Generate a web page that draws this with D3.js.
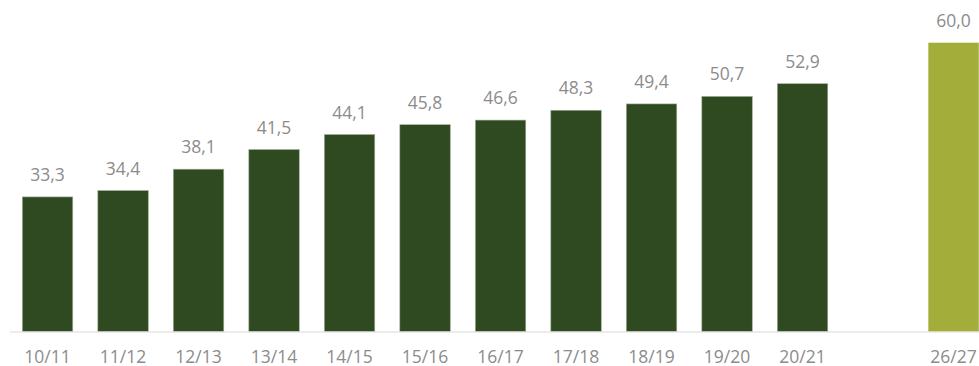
<!DOCTYPE html>
<html lang="en">
<head>
<meta charset="UTF-8">
<title>Bars</title>
<style>
  body { margin: 0; background: #fff; }
  text { font-family: "Open Sans", sans-serif; fill: #8c8c8c; }
</style>
</head>
<body>
<svg id="chart" width="979" height="366"></svg>
<script src="https://d3js.org/d3.v7.min.js"></script>
<script>
// data
var seasons = ["10/11", "11/12", "12/13", "13/14", "14/15", "15/16", "16/17", "17/18", "18/19", "19/20", "20/21", "", "26/27"];
var values = [33.3, 34.4, 38.1, 41.5, 44.1, 45.8, 46.6, 48.3, 49.4, 50.7, 52.9, null, 60.0];
var isForecast = [false, false, false, false, false, false, false, false, false, false, false, false, true];

var svg = d3.select("#chart"),
  baseY = 331.5;

var x = d3.scaleBand()
  .domain(d3.range(seasons.length))
  .range([9.8, 991.3])
  .paddingInner(0.332)
  .paddingOuter(0.166);

var y = d3.scaleLinear()
  .domain([10, 60])
  .range([baseY, 42.7]);

var fmt = function (v) { return v.toFixed(1).replace(".", ","); };

var idx = d3.range(seasons.length).filter(function (i) { return values[i] != null; });

svg.selectAll("rect.bar")
  .data(idx)
  .enter().append("rect")
  .attr("class", "bar")
  .attr("x", function (i) { return x(i); })
  .attr("y", function (i) { return y(values[i]); })
  .attr("width", x.bandwidth())
  .attr("height", function (i) { return baseY - y(values[i]); })
  .attr("fill", function (i) { return isForecast[i] ? "#a2ad3a" : "#2f4a20"; })
  .attr("stroke", function (i) { return isForecast[i] ? "none" : "#9fae97"; })
  .attr("stroke-width", 0.6);

// axis line
svg.append("line")
  .attr("x1", 10).attr("x2", 979)
  .attr("y1", baseY + 0.5).attr("y2", baseY + 0.5)
  .attr("stroke", "#d9d9d9")
  .attr("stroke-width", 1.2);

// value labels
svg.selectAll("text.val")
  .data(idx)
  .enter().append("text")
  .attr("class", "val")
  .attr("x", function (i) { return x(i) + x.bandwidth() / 2; })
  .attr("y", function (i) { return y(values[i]) - 16; })
  .attr("text-anchor", "middle")
  .style("font-size", "17.5px")
  .text(function (i) { return fmt(values[i]); });

// category labels
svg.selectAll("text.cat")
  .data(d3.range(seasons.length))
  .enter().append("text")
  .attr("class", "cat")
  .attr("x", function (i) { return x(i) + x.bandwidth() / 2; })
  .attr("y", 362.5)
  .attr("text-anchor", "middle")
  .style("font-size", "17.5px")
  .text(function (i) { return seasons[i]; });
</script>
</body>
</html>
